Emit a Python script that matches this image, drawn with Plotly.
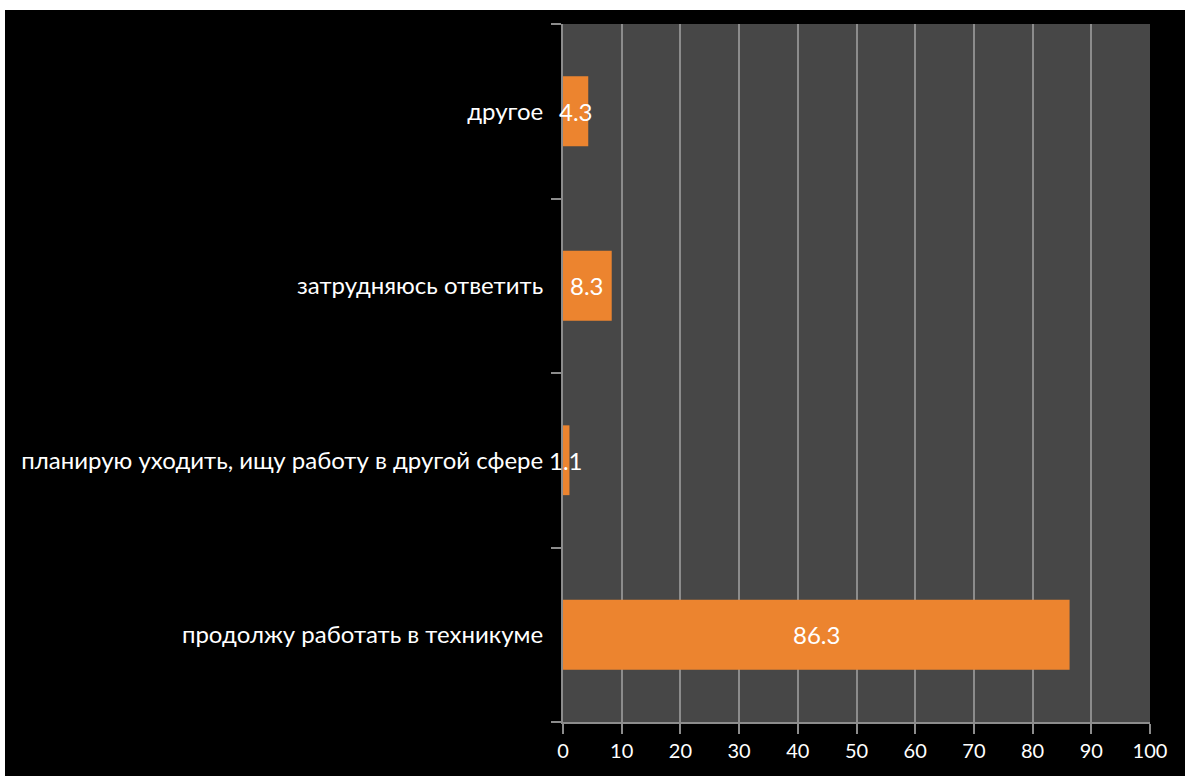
import plotly.graph_objects as go

categories = ["продолжу работать в техникуме",
              "планирую уходить, ищу работу в другой сфере",
              "затрудняюсь ответить",
              "другое"]
values = [86.3, 1.1, 8.3, 4.3]
value_labels = ["86.3", "1.1", "8.3", "4.3"]
x_ticks = [0, 10, 20, 30, 40, 50, 60, 70, 80, 90, 100]

FONT = "Lato"
fig = go.Figure()
fig.add_trace(go.Bar(
    y=categories, x=values, orientation="h",
    marker=dict(color="#EC842F", line=dict(width=0)),
    width=0.4, hoverinfo="skip", showlegend=False,
))

for c, v, t in zip(categories, values, value_labels):
    fig.add_annotation(x=v / 2, y=c, text=t, showarrow=False,
                       font=dict(family=FONT, size=24, color="white"),
                       xanchor="center", yanchor="middle")

# white frame strips at top and left of the image
fig.add_shape(type="rect", xref="paper", yref="paper",
              x0=-1.0, x1=-0.9506, y0=-0.2, y1=1.1,
              fillcolor="white", line=dict(width=0), layer="above")
fig.add_shape(type="rect", xref="paper", yref="paper",
              x0=-1.0, x1=0.1, y0=1.0200, y1=1.1,
              fillcolor="white", line=dict(width=0), layer="above")
fig.add_shape(type="rect", xref="paper", yref="paper",
              x0=0.0, x1=1.1, y0=1.0200, y1=1.1,
              fillcolor="white", line=dict(width=0), layer="above")

fig.update_layout(
    width=1185, height=776,
    margin=dict(l=563, r=35, t=24, b=54),
    paper_bgcolor="black",
    plot_bgcolor="#474747",
    font=dict(family=FONT, size=20, color="white"),
    xaxis=dict(range=[0, 100], tickvals=x_ticks, ticktext=[str(t) for t in x_ticks],
               showgrid=True, gridcolor="#8C8C8C", gridwidth=2,
               showline=True, linecolor="#8C8C8C", linewidth=2,
               ticks="outside", ticklen=10, tickcolor="#8C8C8C", tickwidth=2,
               zeroline=False, mirror=False,
               tickfont=dict(family=FONT, size=20, color="white")),
    yaxis=dict(categoryorder="array", categoryarray=categories,
               showgrid=False, showline=True, linecolor="#8C8C8C", linewidth=2,
               ticks="outside", tickson="boundaries", ticklen=10,
               tickcolor="#8C8C8C", tickwidth=2,
               ticklabelstandoff=13,
               tickfont=dict(family=FONT, size=24, color="white")),
    bargap=0.6,
)

fig.write_html("out.html",
               config={"displayModeBar": False},
               post_script="document.body.style.margin='0';document.body.style.overflow='hidden';")
